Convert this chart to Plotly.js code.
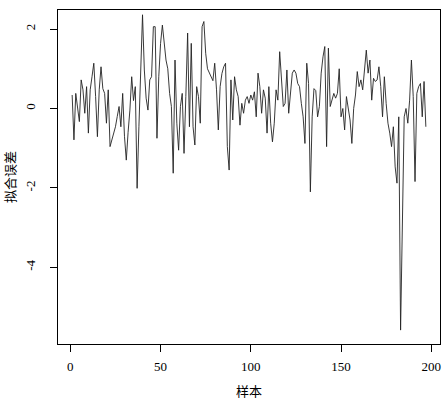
<!DOCTYPE html>
<html><head><meta charset="utf-8">
<script src="https://cdn.plot.ly/plotly-3.0.1.min.js"></script>
<style>html,body{margin:0;padding:0;background:#fff}</style>
</head><body><div id="chart" style="width:448px;height:406px"></div>
<script>
const errors = [
 0.34,-0.79,0.38,0.0,-0.33,0.72,0.47,-0.12,0.55,-0.62,
 0.47,0.8,1.14,0.3,-0.71,0.47,1.05,0.5,0.38,-0.37,
 0.47,-0.96,-0.8,-0.6,-0.46,-0.2,0.05,-0.46,0.38,-0.7,
 -1.3,-0.6,-0.04,0.8,0.2,0.55,-2.01,-0.46,0.8,2.36,
 0.97,0.26,-0.04,0.72,0.8,2.06,2.06,-0.75,0.8,1.64,
 2.1,1.64,1.22,1.0,0.38,0.05,-1.63,1.22,-0.37,-1.05,
 0.05,0.38,-1.13,0.3,1.9,-0.46,1.64,-0.46,-0.92,0.55,
 0.3,-0.37,2.06,2.19,1.39,1.0,0.9,0.8,0.7,1.14,
 0.47,-0.54,0.55,0.88,1.05,1.14,-0.96,-1.55,0.72,-0.29,
 0.8,0.47,0.3,-0.42,0.13,-0.12,0.21,0.3,0.13,0.34,
 0.21,0.42,-0.21,0.89,0.55,-0.12,0.47,0.26,-0.62,0.55,
 -0.37,-0.84,-0.37,0.47,0.21,1.43,0.8,0.05,0.13,0.97,
 -0.12,0.47,0.89,0.97,0.89,0.63,0.55,0.13,-0.21,-0.88,
 1.14,0.63,-2.1,-0.21,0.5,0.45,-0.21,0.05,0.89,1.3,
 1.56,-0.96,1.52,0.05,0.21,0.38,0.26,0.38,1.0,-0.21,
 0.0,-0.54,0.3,0.05,-0.29,-0.88,0.0,0.34,0.93,0.55,
 0.72,0.47,0.97,1.47,0.89,1.22,0.21,0.76,0.68,0.72,
 1.05,0.55,-0.21,0.8,0.13,-0.37,-0.62,-0.96,-0.46,-1.47,
 -1.88,-0.21,-5.58,-2.3,-0.21,0.0,-0.37,0.21,1.22,0.3,
 -1.84,0.38,0.55,0.63,-0.21,0.68,-0.46
];
const samples = errors.map((_, i) => i + 1);
const xTicks = [0, 50, 100, 150, 200];
const yTicks = [-4, -2, 0, 2];
const xLabel = '样本';
const yLabel = '拟合误差';

const serif = 'Liberation Serif, Times New Roman, serif';
const cjk = 'Noto Sans CJK SC, sans-serif';

Plotly.newPlot('chart', [{
  x: samples, y: errors, type: 'scatter', mode: 'lines',
  line: {color: '#222', width: 0.9}, hoverinfo: 'none'
}], {
  width: 448, height: 406,
  margin: {l: 58, r: 8, t: 10, b: 62},
  paper_bgcolor: '#fff', plot_bgcolor: '#fff',
  showlegend: false,
  xaxis: {
    range: [-6.84, 204.84], tickvals: xTicks, ticktext: xTicks.map(String),
    ticks: 'outside', ticklen: 7, tickcolor: '#000', tickwidth: 1,
    showline: true, mirror: true, linecolor: '#000', linewidth: 1,
    showgrid: false, zeroline: false, ticklabelstandoff: 3,
    tickfont: {family: serif, size: 13, color: '#000'},
    title: {text: xLabel, font: {family: cjk, size: 13, color: '#000'}, standoff: 14}
  },
  yaxis: {
    range: [-5.93, 2.48], tickvals: yTicks, ticktext: yTicks.map(String),
    ticks: 'outside', ticklen: 7, tickcolor: '#000', tickwidth: 1, tickangle: -90,
    showline: true, mirror: true, linecolor: '#000', linewidth: 1,
    showgrid: false, zeroline: false, ticklabelstandoff: 10,
    tickfont: {family: serif, size: 13, color: '#000'},
    title: {text: yLabel, font: {family: cjk, size: 13, color: '#000'}, standoff: 6}
  }
}, {staticPlot: true, displayModeBar: false});
</script></body></html>
